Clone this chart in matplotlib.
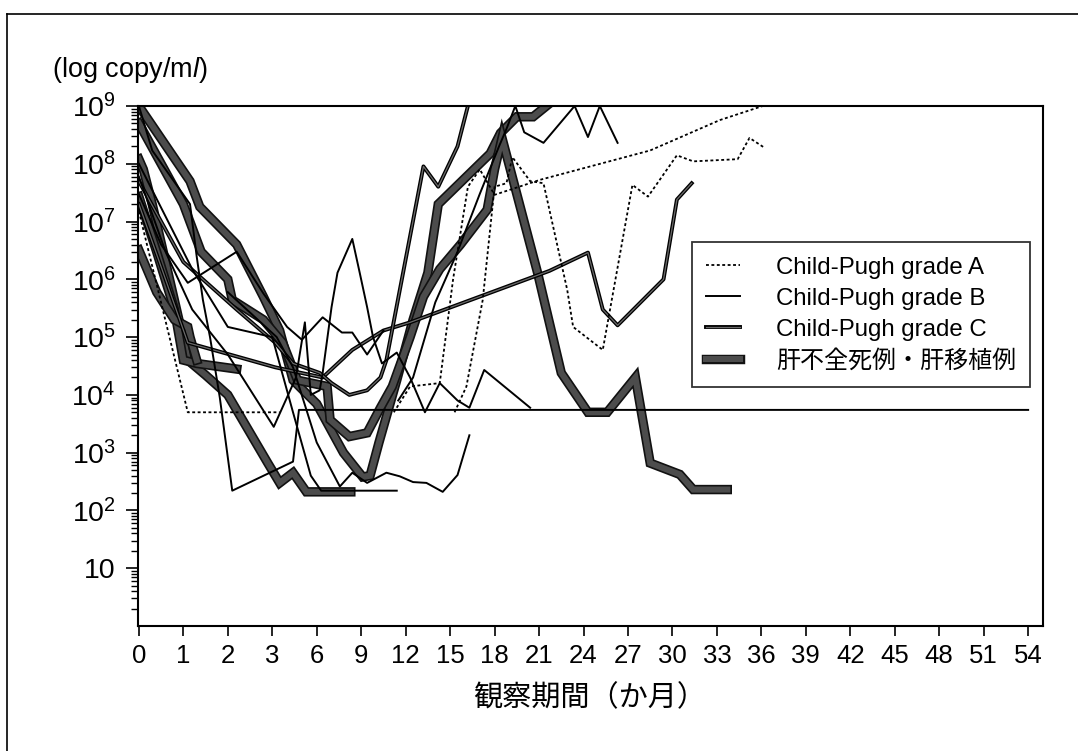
import matplotlib
matplotlib.use("Agg")
import matplotlib.pyplot as plt
import matplotlib.patheffects as pe
import numpy as np
from matplotlib.lines import Line2D
from matplotlib.ticker import FixedLocator, LogLocator, NullFormatter

plt.rcParams["font.family"] = ["Liberation Sans", "Noto Sans CJK JP"]
plt.rcParams["mathtext.fontset"] = "custom"
plt.rcParams["mathtext.rm"] = "Liberation Sans"
plt.rcParams["mathtext.it"] = "Liberation Sans:italic"

# axis ticks (months, non-linear spacing)
month_ticks = [0, 1, 2, 3] + list(range(6, 55, 3))
y_ticks = [1e1, 1e2, 1e3, 1e4, 1e5, 1e6, 1e7, 1e8, 1e9]
y_ticklabels = ["10", "10$^2$", "10$^3$", "10$^4$", "10$^5$",
                "10$^6$", "10$^7$", "10$^8$", "10$^9$"]

legend_labels = ["Child-Pugh grade A", "Child-Pugh grade B",
                 "Child-Pugh grade C", "肝不全死例・肝移植例"]

# --- Child-Pugh grade A (dotted)
a1_m = [0, 1.1, 3.5]
a1_v = [1.5e7, 5e3, 5e3]
a2_m = [15.3, 16.1, 17.2, 18.0, 18.8, 19.2, 20.4, 21.3, 22.9, 23.3, 25.3,
        27.3, 28.35, 30.3, 31.4, 34.4, 35.2, 36.2]
a2_v = [5e3, 1.4e4, 4.4e5, 4e7, 4.6e7, 1.3e8, 5e7, 4.6e7, 6.6e5, 1.5e5, 6e4,
        4.3e7, 2.7e7, 1.4e8, 1.1e8, 1.2e8, 2.8e8, 1.9e8]
a3_m = [11.2, 12.3, 14.3, 15.2, 16.2, 17.0, 18.0, 21.1, 28.5, 33.2, 36.1]
a3_v = [5e3, 1.4e4, 1.6e4, 1e6, 4e7, 8e7, 2.9e7, 5.3e7, 1.7e8, 5.7e8, 1e9]

# --- Child-Pugh grade B (thin solid)
b1_m = [0, 0.3, 1.15, 1.3, 1.44, 1.6, 1.82, 2.1, 4.4, 4.8, 54]
b1_v = [1e9, 1.7e8, 2e7, 2.5e6, 4.4e5, 1e5, 9e3, 2.2e2, 7e2, 5.5e3, 5.5e3]
b2_m = [0, 0.6, 1.2, 2.0, 3.1, 4.6, 5.2, 5.6, 6.2, 6.4, 7.0, 7.4, 8.4, 8.9,
        9.4, 9.8, 10.4, 11.4, 12.3, 13.3, 14.3, 15.5, 16.3, 17.3, 20.4]
b2_v = [6e7, 3e6, 3e5, 5e4, 2.8e3, 2e4, 1.8e5, 1e4, 1.2e4, 2.4e4, 3.3e5,
        1.3e6, 5e6, 1.3e6, 3.3e5, 1e5, 3.5e4, 5.4e4, 2e4, 5e3, 1.6e4, 8e3,
        6e3, 2.7e4, 6e3]
b4_m = [0, 0.5, 1.1, 2.2, 2.8, 4.0, 5.0, 6.4, 7.7, 8.4, 9.4, 10.5]
b4_v = [3e7, 4e6, 8.7e5, 3e6, 5.7e5, 1.5e5, 9e4, 2.2e5, 1.2e5, 1.2e5, 5e4, 1.3e5]
b6_m = [11.5, 12.5, 14.0, 15.5, 17.0, 18.3, 18.8, 19.4, 20.0, 21.3, 23.4,
        24.3, 25.1, 26.3]
b6_v = [8e3, 2e4, 4e5, 3e6, 3e7, 2e8, 4e8, 1e9, 3.5e8, 2.3e8, 1e9, 2.9e8,
        1e9, 2.3e8]
b7_m = [2.0, 3.3, 4.4, 6.0, 7.56, 8.4, 9.4, 10.7, 11.6, 12.5, 13.4, 14.5,
        15.5, 16.3]
b7_v = [6e5, 1e5, 3e4, 1.5e3, 2.6e2, 4.5e2, 3e2, 4.5e2, 3.9e2, 3.1e2, 3e2,
        2.1e2, 4.1e2, 2e3]
b8_m = [0, 1.2, 2.0, 3.0, 4.4, 5.6, 6.3, 11.4]
b8_v = [1e8, 1.5e6, 1.5e5, 1e5, 5e3, 4e2, 2.2e2, 2.2e2]

# --- Child-Pugh grade C (medium)
c1_m = [0, 0.6, 1.1, 3.2, 6.4, 8.4, 10.5, 12.3, 21.7, 24.3, 25.3, 26.3,
        29.4, 30.3, 31.3]
c1_v = [2e7, 1e6, 8e4, 3e4, 2e4, 6e4, 1.3e5, 1.8e5, 1.4e6, 2.9e6, 3e5,
        1.6e5, 1e6, 2.4e7, 4.6e7]
c2_m = [0, 1.0, 2.2, 3.2, 4.4, 6.2, 7.0, 8.2, 9.4, 10.3, 10.7, 13.2, 14.2,
        15.5, 16.2]
c2_v = [5e7, 2e6, 3e5, 8e4, 3.5e4, 2.4e4, 1.6e4, 1e4, 1.2e4, 2e4, 4e4,
        9e7, 4e7, 2e8, 1e9]

# --- 肝不全死例・肝移植例 (thick)
t1_m = [0, 1.15, 1.37, 2.2, 2.8, 3.5, 4.4, 6.0, 7.8, 9.1, 9.6, 10.2, 11.4,
        12.5, 13.5, 14.2, 17.7, 18.4, 19.5, 20.6, 21.5]
t1_v = [1e9, 5e7, 1.8e7, 4e6, 5e5, 1.3e5, 1.8e4, 7e3, 1e3, 3.8e2, 4e2, 1.5e3,
        1.8e4, 2e5, 1.3e6, 2e7, 1.5e8, 3.4e8, 6.5e8, 6.5e8, 1e9]
t2_m = [0, 1.0, 1.4, 2.0, 2.1, 2.8, 3.7, 4.7, 6.7, 6.9, 8.2, 9.4, 10.3, 11.1,
        12.3, 13.2, 14.3, 15.7, 17.5, 18.0, 18.5, 20.9, 22.5, 24.3, 25.6,
        27.5, 28.5, 30.5, 31.4, 33.7]
t2_v = [5e8, 2e7, 3e6, 1e6, 4.4e5, 2e5, 8e4, 1.8e4, 1.4e4, 3.7e3, 1.9e3,
        2.2e3, 6e3, 1.4e4, 1e5, 5e5, 1.5e6, 4e6, 1.6e7, 8e7, 2.8e8, 1.3e6,
        2.4e4, 5e3, 5e3, 2e4, 6.6e2, 4.2e2, 2.3e2, 2.3e2]
t3_m = [0, 0.1, 0.3, 0.6, 0.9, 1.1, 1.5, 2.0, 2.9, 3.5, 4.4, 5.3, 8.3]
t3_v = [1.2e8, 8e7, 2e7, 2e6, 2e5, 4e4, 2.2e4, 1e4, 6.6e2, 3e2, 4.5e2, 2.1e2, 2.1e2]
t4_m = [0, 0.4, 0.8, 1.0, 1.3, 2.2]
t4_v = [2.7e7, 3e6, 3e5, 4e4, 3.5e4, 2.8e4]
t5_m = [0, 0.4, 0.8, 1.1, 1.15, 1.3]
t5_v = [3.2e6, 6e5, 2e5, 1.5e5, 1e5, 4e4]

grade_a = [(a1_m, a1_v), (a2_m, a2_v), (a3_m, a3_v)]
grade_b = [(b1_m, b1_v), (b2_m, b2_v), (b4_m, b4_v), (b6_m, b6_v),
           (b7_m, b7_v), (b8_m, b8_v)]
grade_c = [(c1_m, c1_v), (c2_m, c2_v)]
failure = [(t1_m, t1_v), (t2_m, t2_v), (t3_m, t3_v), (t4_m, t4_v), (t5_m, t5_v)]


def to_pos(m):
    m = np.asarray(m, dtype=float)
    return np.where(m <= 3, m, 3 + (m - 3) / 3)


def from_pos(p):
    p = np.asarray(p, dtype=float)
    return np.where(p <= 3, p, 3 + (p - 3) * 3)


style_a = dict(color="black", lw=1.3, linestyle=(0, (1.6, 1.4)))
style_b = dict(color="black", lw=1.4)
style_c = dict(color="#6a6a6a", lw=0.9,
               path_effects=[pe.Stroke(linewidth=2.8, foreground="black"), pe.Normal()])
style_t = dict(color="#4c4c4c", lw=4.4, solid_joinstyle="miter",
               path_effects=[pe.Stroke(linewidth=6.8, foreground="#111111"), pe.Normal()])

fig = plt.figure(figsize=(10.78, 7.51), dpi=100)
ax = fig.add_axes([0.128, 0.1664, 0.8395, 0.6925])
ax.set_xscale("function", functions=(to_pos, from_pos))
ax.set_yscale("log")

for m, v in failure:
    ax.plot(m, v, **style_t)
for m, v in grade_c:
    ax.plot(m, v, **style_c)
for m, v in grade_b:
    ax.plot(m, v, **style_b)
for m, v in grade_a:
    ax.plot(m, v, **style_a)

ax.set_xlim(-0.02, 55.0)
ax.set_ylim(1, 1e9)

ax.xaxis.set_major_locator(FixedLocator(month_ticks))
ax.set_xticklabels([str(t) for t in month_ticks])
ax.xaxis.set_minor_locator(FixedLocator([]))
ax.yaxis.set_major_locator(FixedLocator(y_ticks))
ax.set_yticklabels(y_ticklabels)
ax.yaxis.set_minor_locator(LogLocator(base=10, subs=np.arange(2, 10)))
ax.yaxis.set_minor_formatter(NullFormatter())

ax.tick_params(axis="x", direction="out", length=7, width=1.2, labelsize=18.5, pad=6)
ax.tick_params(axis="y", which="major", direction="out", length=9, width=1.2,
               labelsize=20.5, pad=7)
ax.tick_params(axis="y", which="minor", direction="out", length=5, width=1.0)
for s in ax.spines.values():
    s.set_linewidth(1.5)

handles = [Line2D([], [], **style_a), Line2D([], [], **style_b),
           Line2D([], [], **style_c), Line2D([], [], **style_t)]
leg = ax.legend(handles, legend_labels, loc="upper left",
                bbox_to_anchor=(0.612, 0.738), fontsize=17.3, frameon=True,
                fancybox=False, edgecolor="black", handlelength=1.4,
                handletextpad=1.5, labelspacing=0.38, borderpad=0.6,
                borderaxespad=0)
leg.get_frame().set_linewidth(1.3)

fig.text(52 / 1078, 1 - 70 / 751, "(log copy/m$\\mathit{l}$)", fontsize=19.5,
         ha="left", va="center")
fig.text(590 / 1078, 1 - 698 / 751, "観察期間（か月）", fontsize=21,
         ha="center", va="center")

# outer frame of the figure panel
fig.add_artist(Line2D([7 / 1078, 7 / 1078], [0, 1 - 14 / 751], color="black",
                      lw=1.2, transform=fig.transFigure))
fig.add_artist(Line2D([7 / 1078, 1], [1 - 14 / 751, 1 - 14 / 751], color="black",
                      lw=1.2, transform=fig.transFigure))

fig.savefig("out.png", dpi=100)
